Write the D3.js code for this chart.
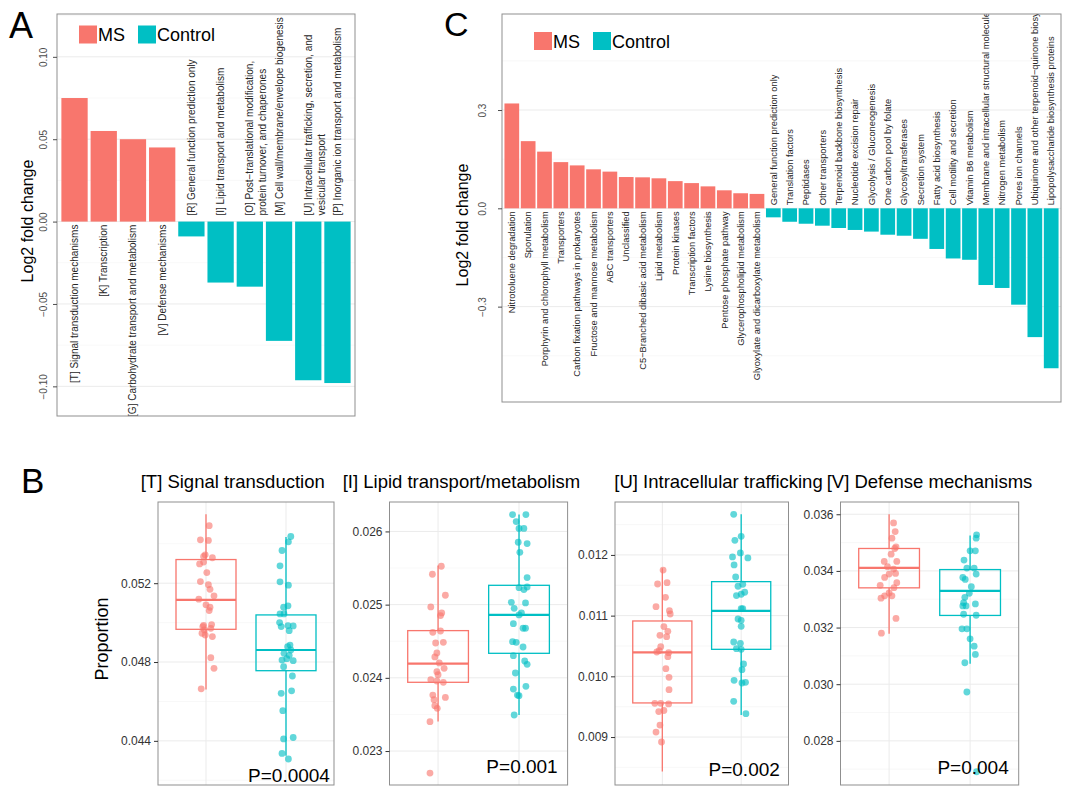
<!DOCTYPE html>
<html>
<head>
<meta charset="utf-8">
<script src="https://cdn.jsdelivr.net/npm/d3@7"></script>
<style>
  body { margin: 0; background: #fff; }
  svg { font-family: "Liberation Sans", Arial, Helvetica, sans-serif; }
</style>
</head>
<body>
<script>
// ---------- data ----------
var groups = ["MS", "Control"];

// A: COG categories, log2 fold change
var cogCats = [
  "[T] Signal transduction mechanisms",
  "[K] Transcription",
  "[G] Carbohydrate transport and metabolism",
  "[V] Defense mechanisms",
  "[R] General function prediction only",
  "[I] Lipid transport and metabolism",
  "[O] Post\u2212translational modification,\nprotein turnover, and chaperones",
  "[M] Cell wall/membrane/envelope biogenesis",
  "[U] Intracellular trafficking, secretion, and\nvesicular transport",
  "[P] Inorganic ion transport and metabolism"
];
var cogLfc = [0.075, 0.055, 0.050, 0.045, -0.009, -0.037, -0.0395, -0.0724, -0.0963, -0.098];
var cogTicks = [-0.10, -0.05, 0, 0.05, 0.10];
var cogTickLabels = ["\u22120.10", "\u22120.05", "0.00", "0.05", "0.10"];
var cogDomain = [-0.118, 0.126];

// C: KEGG pathways, log2 fold change
var keggCats = [
  "Nitrotoluene degradation", "Sporulation", "Porphyrin and chlorophyll metabolism",
  "Transporters", "Carbon fixation pathways in prokaryotes", "Fructose and mannose metabolism",
  "ABC transporters", "Unclassified", "C5\u2212Branched dibasic acid metabolism",
  "Lipid metabolism", "Protein kinases", "Transcription factors", "Lysine biosynthesis",
  "Pentose phosphate pathway", "Glycerophospholipid metabolism",
  "Glyoxylate and dicarboxylate metabolism",
  "General function prediction only", "Translation factors", "Peptidases",
  "Other transporters", "Terpenoid backbone biosynthesis", "Nucleotide excision repair",
  "Glycolysis / Gluconeogenesis", "One carbon pool by folate", "Glycosyltransferases",
  "Secretion system", "Fatty acid biosynthesis", "Cell motility and secretion",
  "Vitamin B6 metabolism", "Membrane and intracellular structural molecules",
  "Nitrogen metabolism", "Pores ion channels",
  "Ubiquinone and other terpenoid\u2212quinone biosynthesis",
  "Lipopolysaccharide biosynthesis proteins"
];
var keggLfc = [0.320, 0.205, 0.173, 0.141, 0.131, 0.119, 0.112, 0.0955, 0.0946, 0.0916,
  0.083, 0.077, 0.067, 0.055, 0.046, 0.044,
  -0.0275, -0.041, -0.047, -0.053, -0.060, -0.066, -0.071, -0.0805, -0.0836, -0.093,
  -0.124, -0.153, -0.157, -0.234, -0.243, -0.294, -0.393, -0.488];
var keggTicks = [-0.3, 0, 0.3];
var keggTickLabels = ["\u22120.3", "0.0", "0.3"];
var keggDomain = [-0.591, 0.593];

// B: proportions per sample
var boxTitles = ["[T] Signal transduction", "[I] Lipid transport/metabolism",
  "[U] Intracellular trafficking", "[V] Defense mechanisms"];
var boxPvals = ["P=0.0004", "P=0.001", "P=0.002", "P=0.004"];
var boxPvalY = [0.04193, 0.0227, 0.00836, 0.02683];
var boxTicks = [
  [0.044, 0.048, 0.052],
  [0.023, 0.024, 0.025, 0.026],
  [0.009, 0.010, 0.011, 0.012],
  [0.028, 0.030, 0.032, 0.034, 0.036]
];
var boxDomains = [[0.04176, 0.05612], [0.022536, 0.026402], [0.00821, 0.012872], [0.026441, 0.036433]];
// [lower whisker, Q1, median, Q3, upper whisker]
var msStats = [
  [0.0466, 0.04966, 0.05115, 0.0532, 0.0555],
  [0.023405, 0.023939, 0.024194, 0.024645, 0.025533],
  [0.008433, 0.009562, 0.010396, 0.010912, 0.011779],
  [0.031777, 0.033402, 0.034106, 0.034792, 0.036]
];
var ctrlStats = [
  [0.04324, 0.04756, 0.04861, 0.05039, 0.05434],
  [0.023492, 0.024335, 0.024859, 0.025264, 0.02623],
  [0.009362, 0.010445, 0.011077, 0.01156, 0.012669],
  [0.030721, 0.032428, 0.033296, 0.034047, 0.035249]
];
// [jitter (category units), proportion]
var msPoints = [
  [[0.04,0.05492],[-0.07,0.05420],[0.03,0.05417],[-0.01,0.05344],[0.08,0.05329],[-0.03,0.05307],
   [0.01,0.05254],[-0.07,0.05208],[0.03,0.05192],[0.05,0.05169],[0.10,0.05136],[-0.09,0.05119],
   [0.0,0.05090],[0.05,0.05078],[-0.04,0.04980],[0.07,0.04990],[-0.02,0.04963],[0.06,0.04971],
   [-0.05,0.04946],[-0.01,0.04937],[0.08,0.04929],[0.06,0.04822],[0.10,0.04768],[-0.06,0.04664],
   [-0.03,0.05336],[-0.08,0.05298],[-0.03,0.04986],[0.04,0.05061]],
  [[0.04,0.025524],[-0.07,0.025415],[0.09,0.025128],[-0.09,0.024968],[0.045,0.024886],[0.03,0.02485],
   [-0.065,0.024622],[0.03,0.02464],[-0.03,0.024476],[0.065,0.024485],[-0.015,0.024339],[-0.04,0.024285],
   [0.015,0.024203],[0.075,0.02413],[-0.015,0.024084],[0,0.024043],[-0.09,0.023975],[-0.015,0.023957],
   [0.065,0.023939],[-0.065,0.023765],[-0.05,0.023702],[0.09,0.023733],[-0.04,0.02362],[-0.01,0.023583],
   [-0.1,0.023401],[-0.1,0.022699]],
  [[0.01,0.011751],[-0.06,0.011521],[0.06,0.011543],[0.04,0.011302],[-0.08,0.011148],[0.09,0.011082],
   [0.1,0.011027],[0.02,0.010819],[0.07,0.010741],[-0.03,0.010676],[0.055,0.010654],[-0.02,0.010489],
   [-0.07,0.010401],[-0.04,0.010423],[0.08,0.01039],[0.07,0.010324],[0.045,0.010127],[0.085,0.009983],
   [0.085,0.00978],[-0.095,0.009556],[-0.02,0.009556],[0.08,0.009546],[-0.045,0.00942],[0.02,0.009437],
   [-0.03,0.009197],[-0.08,0.009082],[-0.01,0.008918]],
  [[0.055,0.035695],[0.075,0.03539],[0.035,0.035155],[0.085,0.03485],[0.07,0.034792],[0.025,0.034592],
   [-0.06,0.034334],[0.095,0.034334],[-0.02,0.034147],[0.055,0.034065],[0,0.033888],[0.08,0.033912],
   [-0.055,0.033771],[0.095,0.033583],[0.06,0.033407],[-0.11,0.03349],[-0.055,0.03312],[0.035,0.03312],
   [-0.1,0.033038],[0,0.03322],[0.085,0.032323],[-0.095,0.0318]]
];
var ctrlPoints = [
  [[0.06,0.05437],[0.03,0.05410],[-0.05,0.05366],[-0.075,0.05288],[-0.075,0.05207],[0.03,0.05190],
   [-0.03,0.05078],[0.025,0.05085],[-0.075,0.05044],[-0.025,0.05044],[-0.08,0.05000],[0.025,0.04985],
   [0.09,0.04983],[-0.06,0.04980],[0.04,0.04959],[0.05,0.04886],[0.02,0.04878],[0.06,0.04861],
   [-0.025,0.04844],[0.04,0.04834],[0.01,0.04817],[0.09,0.04807],[-0.05,0.04810],[-0.03,0.04776],
   [0.08,0.04729],[-0.06,0.04641],[0.07,0.04654],[-0.04,0.04553],[-0.03,0.04410],[0.09,0.04417],
   [-0.05,0.04336],[0.03,0.04308]],
  [[-0.08,0.02623],[0.085,0.02623],[-0.035,0.026134],[0,0.026041],[0.06,0.026041],[-0.01,0.025852],
   [0.1,0.025834],[0.01,0.025715],[0.1,0.025369],[0,0.025232],[0.1,0.025241],[0.06,0.025205],
   [-0.095,0.025032],[0.08,0.025023],[-0.06,0.02495],[0.03,0.024886],[0,0.024859],[-0.07,0.02474],
   [0.05,0.024677],[0.08,0.024677],[-0.08,0.024494],[-0.035,0.024485],[0.05,0.024421],[-0.07,0.024303],
   [0.07,0.02423],[0.1,0.024184],[-0.045,0.024066],[-0.07,0.023847],[0.085,0.023884],[-0.02,0.023765],
   [0,0.023756],[-0.06,0.023492]],
  [[-0.095,0.012669],[0,0.012307],[-0.08,0.012241],[-0.11,0.011967],[-0.01,0.012033],[0.085,0.011951],
   [-0.09,0.011835],[-0.07,0.011637],[-0.04,0.011484],[0.02,0.011517],[-0.06,0.01133],[0.045,0.011385],
   [0,0.011352],[0,0.011115],[0.02,0.011115],[-0.04,0.010945],[0,0.010923],[0,0.010824],
   [-0.095,0.010566],[-0.01,0.010544],[-0.06,0.010456],[0,0.010445],[0.03,0.010203],[0.01,0.01011],
   [-0.09,0.009934],[0.01,0.00989],[0.055,0.009901],[-0.095,0.009588],[0.06,0.009385]],
  [[0.08,0.035273],[0.075,0.035155],[0,0.03471],[0.065,0.03471],[-0.075,0.034381],[-0.04,0.0341],
   [0.05,0.0341],[0.075,0.033888],[-0.09,0.033771],[-0.06,0.0337],[0.015,0.033443],[-0.01,0.033208],
   [-0.065,0.033067],[-0.08,0.03288],[0.065,0.032833],[-0.05,0.032762],[-0.09,0.032762],[-0.08,0.032469],
   [0.075,0.032434],[-0.1,0.031954],[-0.04,0.031954],[0,0.031602],[0.05,0.031344],[0.065,0.031051],
   [-0.065,0.030757],[-0.04,0.029725],[0.08,0.026909]]
];

// ---------- drawing ----------
var msColor = "#F8766D", ctrlColor = "#00BFC4";
var borderColor = "#8f8f8f";

var svg = d3.select("body").append("svg")
  .attr("width", 1068)
  .attr("height", 786);
var defs = svg.append("defs");

function minorBreaks(ticks, domain) {
  var step = ticks[1] - ticks[0], out = [];
  for (var v = ticks[0] - step / 2; v <= domain[1]; v += step) {
    if (v >= domain[0]) out.push(v);
  }
  return out;
}

function clipRect(id, b) {
  defs.append("clipPath").attr("id", id).append("rect")
    .attr("x", b.x0).attr("y", b.y0)
    .attr("width", b.x1 - b.x0).attr("height", b.y1 - b.y0);
}

function legend(x, y) {
  var g = svg.append("g").attr("transform", "translate(" + x + "," + y + ")");
  g.append("rect").attr("x", 0).attr("y", 0).attr("width", 18).attr("height", 18).attr("fill", msColor);
  g.append("text").attr("x", 19).attr("y", 15.5).style("font-size", "18px").text(groups[0]);
  g.append("rect").attr("x", 59).attr("y", 0).attr("width", 18).attr("height", 18).attr("fill", ctrlColor);
  g.append("text").attr("x", 78).attr("y", 15.5).style("font-size", "18px").text(groups[1]);
}

function barPanel(id, cats, vals, box, domain, ticks, tickLabels, o) {
  var x = d3.scaleBand().domain(cats).range([box.x0, box.x1])
    .paddingInner(0.1).paddingOuter(0.15);
  var y = d3.scaleLinear().domain(domain).range([box.y1, box.y0]);

  clipRect(id + "-clip", box);
  var p = svg.append("g").attr("clip-path", "url(#" + id + "-clip)");

  p.selectAll("line.minor").data(minorBreaks(ticks, domain)).enter().append("line")
    .attr("x1", box.x0).attr("x2", box.x1)
    .attr("y1", function (d) { return y(d); }).attr("y2", function (d) { return y(d); })
    .attr("stroke", "#f4f4f4").attr("stroke-width", 0.6);
  p.selectAll("line.major").data(ticks).enter().append("line")
    .attr("x1", box.x0).attr("x2", box.x1)
    .attr("y1", function (d) { return y(d); }).attr("y2", function (d) { return y(d); })
    .attr("stroke", "#ebebeb").attr("stroke-width", 1);

  p.selectAll("rect.bar").data(vals).enter().append("rect")
    .attr("x", function (d, i) { return x(cats[i]); })
    .attr("width", x.bandwidth())
    .attr("y", function (d) { return y(Math.max(0, d)); })
    .attr("height", function (d) { return Math.abs(y(d) - y(0)); })
    .attr("fill", function (d) { return d > 0 ? msColor : ctrlColor; });

  p.selectAll("text.lab").data(cats).enter().append("text")
    .attr("transform", function (c, i) {
      var yy = vals[i] > 0 ? y(0) + o.gapPos : y(0) - o.gapNeg;
      return "translate(" + (x(c) + x.bandwidth() / 2) + "," + yy + ") rotate(-90)";
    })
    .attr("text-anchor", function (c, i) { return vals[i] > 0 ? "end" : "start"; })
    .attr("fill", "#262626")
    .style("font-size", o.labelSize + "px")
    .each(function (c) {
      var t = d3.select(this);
      c.split("\n").forEach(function (line, k) {
        t.append("tspan").attr("x", 0).attr("dy", k === 0 ? "0.35em" : "1.3em").text(line);
      });
    });

  svg.append("rect")
    .attr("x", box.x0).attr("y", box.y0)
    .attr("width", box.x1 - box.x0).attr("height", box.y1 - box.y0)
    .attr("fill", "none").attr("stroke", borderColor).attr("stroke-width", 1);

  var ax = svg.append("g")
    .attr("transform", "translate(" + box.x0 + ",0)")
    .call(d3.axisLeft(y).tickValues(ticks)
      .tickFormat(function (d, i) { return tickLabels[i]; })
      .tickSize(4));
  ax.select(".domain").remove();
  ax.selectAll(".tick line").attr("stroke", "#4d4d4d");
  ax.selectAll(".tick text")
    .attr("x", 0).attr("dy", 0)
    .attr("text-anchor", "middle")
    .attr("transform", "translate(" + o.tickOff + ",0) rotate(-90)")
    .attr("fill", "#4d4d4d")
    .style("font-size", "10px")
    .style("font-family", "inherit");

  svg.append("text")
    .attr("transform", "translate(" + o.titleX + "," + o.titleY + ") rotate(-90)")
    .attr("text-anchor", "middle").attr("dy", "0.35em")
    .style("font-size", "16px")
    .text("Log2 fold change");
}

// Panel A
barPanel("pa", cogCats, cogLfc, { x0: 57, x1: 355, y0: 14, y1: 416 }, cogDomain,
  cogTicks, cogTickLabels,
  { labelSize: 10, gapPos: 3, gapNeg: 6, tickOff: -10.5, titleX: 27, titleY: 221 });
legend(79, 25.5);

// Panel C
barPanel("pc", keggCats, keggLfc, { x0: 502, x1: 1061, y0: 14, y1: 402 }, keggDomain,
  keggTicks, keggTickLabels,
  { labelSize: 9.3, gapPos: 3, gapNeg: 3, tickOff: -16, titleX: 462, titleY: 225 });
legend(534, 32);

// Panel B
var bFrames = [
  { x0: 158, x1: 334, titleX: 140.7 },
  { x0: 389.5, x1: 567.6, titleX: 342.7 },
  { x0: 615, x1: 788.5, titleX: 614.3 },
  { x0: 840.5, x1: 1018.7, titleX: 826.7 }
];
var bTop = 502, bBottom = 785;

function boxPanel(k) {
  var f = bFrames[k];
  var box = { x0: f.x0, x1: f.x1, y0: bTop, y1: bBottom };
  var x = d3.scaleLinear().domain([0.4, 2.6]).range([f.x0, f.x1]);
  var y = d3.scaleLinear().domain(boxDomains[k]).range([bBottom, bTop]);
  var ticks = boxTicks[k];

  clipRect("pb" + k, box);
  var p = svg.append("g").attr("clip-path", "url(#pb" + k + ")");

  p.selectAll("line.minor").data(minorBreaks(ticks, boxDomains[k])).enter().append("line")
    .attr("x1", f.x0).attr("x2", f.x1)
    .attr("y1", function (d) { return y(d); }).attr("y2", function (d) { return y(d); })
    .attr("stroke", "#f4f4f4").attr("stroke-width", 0.6);
  p.selectAll("line.major").data(ticks).enter().append("line")
    .attr("x1", f.x0).attr("x2", f.x1)
    .attr("y1", function (d) { return y(d); }).attr("y2", function (d) { return y(d); })
    .attr("stroke", "#ebebeb").attr("stroke-width", 1);
  p.selectAll("line.vert").data([1, 2]).enter().append("line")
    .attr("x1", function (d) { return x(d); }).attr("x2", function (d) { return x(d); })
    .attr("y1", bTop).attr("y2", bBottom)
    .attr("stroke", "#ebebeb").attr("stroke-width", 1);

  [msStats[k], ctrlStats[k]].forEach(function (s, g) {
    var c = g + 1, col = g === 0 ? msColor : ctrlColor;
    var bg = p.append("g").attr("stroke", col).attr("fill", "none");
    bg.append("line").attr("x1", x(c)).attr("x2", x(c)).attr("y1", y(s[4])).attr("y2", y(s[3]))
      .attr("stroke-width", 1.3);
    bg.append("line").attr("x1", x(c)).attr("x2", x(c)).attr("y1", y(s[1])).attr("y2", y(s[0]))
      .attr("stroke-width", 1.3);
    bg.append("rect")
      .attr("x", x(c - 0.375)).attr("width", x(c + 0.375) - x(c - 0.375))
      .attr("y", y(s[3])).attr("height", y(s[1]) - y(s[3]))
      .attr("stroke-width", 1.3);
    bg.append("line").attr("x1", x(c - 0.375)).attr("x2", x(c + 0.375))
      .attr("y1", y(s[2])).attr("y2", y(s[2])).attr("stroke-width", 2.2);
  });

  [msPoints[k], ctrlPoints[k]].forEach(function (pts, g) {
    p.append("g").selectAll("circle").data(pts).enter().append("circle")
      .attr("cx", function (d) { return x(g + 1 + d[0]); })
      .attr("cy", function (d) { return y(d[1]); })
      .attr("r", 3.4)
      .attr("fill", g === 0 ? msColor : ctrlColor)
      .attr("fill-opacity", 0.62);
  });

  svg.append("rect")
    .attr("x", f.x0).attr("y", bTop)
    .attr("width", f.x1 - f.x0).attr("height", bBottom - bTop)
    .attr("fill", "none").attr("stroke", borderColor).attr("stroke-width", 1);

  var ax = svg.append("g")
    .attr("transform", "translate(" + f.x0 + ",0)")
    .call(d3.axisLeft(y).tickValues(ticks).tickFormat(d3.format(".3f")).tickSize(4).tickPadding(3));
  ax.select(".domain").remove();
  ax.selectAll(".tick line").attr("stroke", "#333");
  ax.selectAll(".tick text").attr("fill", "#333")
    .style("font-size", "12px").style("font-family", "inherit");

  svg.append("text").attr("x", f.titleX).attr("y", 488)
    .style("font-size", "18.5px").text(boxTitles[k]);

  svg.append("text").attr("x", x(2) + 3).attr("y", y(boxPvalY[k]))
    .attr("text-anchor", "middle")
    .style("font-size", "19px").text(boxPvals[k]);
}
for (var k = 0; k < 4; k++) boxPanel(k);

svg.append("text").attr("x", 101.7).attr("y", 639)
  .attr("transform", "rotate(-90,101.7,639)")
  .attr("text-anchor", "middle").attr("dy", "0.35em")
  .style("font-size", "18px").text("Proportion");

// panel letters
svg.append("text").attr("x", 9).attr("y", 38).style("font-size", "36px").text("A");
svg.append("text").attr("x", 444).attr("y", 36).style("font-size", "34px").text("C");
svg.append("text").attr("x", 21).attr("y", 493).style("font-size", "35px").text("B");
</script>
</body>
</html>
